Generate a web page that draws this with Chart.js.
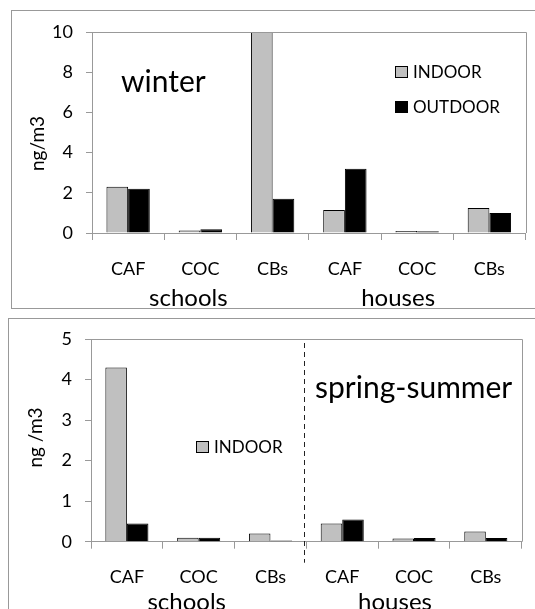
<!DOCTYPE html>
<html>
<head>
<meta charset="utf-8">
<script src="https://cdn.jsdelivr.net/npm/chart.js@4/dist/chart.umd.min.js"></script>
<style>
body { margin: 0; width: 535px; height: 609px; background: #fff; overflow: hidden; position: relative; }
.frame { position: absolute; border: 1px solid #999; border-right: none; }
canvas { position: absolute; left: 0; }
</style>
</head>
<body>
<div class="frame" style="left:11px;top:10px;width:540px;height:297px"></div>
<div class="frame" style="left:8px;top:318px;width:540px;height:300px"></div>
<canvas id="winter" style="top:0" width="535" height="312"></canvas>
<canvas id="spring" style="top:312px" width="535" height="297"></canvas>
<script>
var categories = ["CAF", "COC", "CBs", "CAF", "COC", "CBs"];
var groups = ["schools", "houses"];
var winterIndoor = [2.3, 0.12, 10, 1.15, 0.1, 1.25];
var winterOutdoor = [2.2, 0.19, 1.7, 3.2, 0.09, 1.0];
var springIndoor = [4.3, 0.1, 0.2, 0.45, 0.08, 0.25];
var springOutdoor = [0.45, 0.1, 0.03, 0.55, 0.09, 0.09];
var winterTicks = [0, 2, 4, 6, 8, 10];
var springTicks = [0, 1, 2, 3, 4, 5];

var FONT = "Lato";

// frame of plot area, axis title, season label, legend, group labels
var panelDecor = {
    id: "panelDecor",
    afterDraw: function(chart, args, opts) {
        var ctx = chart.ctx;
        var a = chart.chartArea;
        var x = chart.scales.x;
        ctx.save();
        ctx.strokeStyle = "#999";
        ctx.lineWidth = 1;
        ctx.beginPath();
        ctx.moveTo(a.left, Math.round(a.top) + 0.5);
        ctx.lineTo(Math.round(a.right) + 0.5, Math.round(a.top) + 0.5);
        ctx.lineTo(Math.round(a.right) + 0.5, a.bottom);
        ctx.stroke();

        if (opts.divider) {
            var dx = Math.round((x.getPixelForValue(2) + x.getPixelForValue(3)) / 2) - 1.5;
            ctx.strokeStyle = "#222";
            ctx.setLineDash([5, 4]);
            ctx.beginPath();
            ctx.moveTo(dx, a.top + 4);
            ctx.lineTo(dx, a.bottom + 21);
            ctx.stroke();
            ctx.setLineDash([]);
        }

        ctx.fillStyle = "#000";
        ctx.textAlign = "center";
        ctx.textBaseline = "alphabetic";
        ctx.font = "24px " + FONT;
        groups.forEach(function(g, i) {
            var gx = x.getPixelForValue(opts.groupAt[i]) + opts.groupShift[i];
            ctx.fillText(g, gx, a.bottom + opts.groupDrop);
        });

        ctx.textAlign = "left";
        ctx.font = opts.seasonSize + "px " + FONT;
        ctx.fillText(opts.season, opts.seasonX, opts.seasonY);

        ctx.font = "17px " + FONT;
        ctx.textBaseline = "middle";
        opts.legend.forEach(function(item) {
            var ds = chart.data.datasets[item.index];
            ctx.fillStyle = ds.backgroundColor;
            ctx.fillRect(item.x, item.y - 6, 13, 12);
            ctx.strokeStyle = "#000";
            ctx.strokeRect(item.x + 0.5, item.y - 5.5, 12, 11);
            ctx.fillStyle = "#000";
            ctx.fillText(ds.label, item.x + 18, item.y + 1);
        });

        ctx.font = "19px " + FONT;
        ctx.translate(opts.titleX, opts.titleY);
        ctx.rotate(-Math.PI / 2);
        ctx.textAlign = "center";
        ctx.fillText(opts.yTitle, 0, 0);
        ctx.restore();
    }
};

function makeOptions(ticks, yWidth, xHeight, padTop, padRight, decor) {
    return {
        responsive: false,
        animation: false,
        layout: {
            padding: { top: padTop, right: padRight, left: 0, bottom: 0 }
        },
        plugins: {
            legend: { display: false },
            tooltip: { enabled: false },
            panelDecor: decor
        },
        scales: {
            x: {
                offset: true,
                grid: {
                    offset: true,
                    drawOnChartArea: false,
                    drawTicks: true,
                    tickLength: 7,
                    color: "#999"
                },
                border: { color: "#999" },
                ticks: {
                    autoSkip: false,
                    maxRotation: 0,
                    padding: 18,
                    color: "#000",
                    font: { family: FONT, size: 18 }
                },
                afterFit: function(scale) { scale.height = xHeight; }
            },
            y: {
                min: ticks[0],
                max: ticks[ticks.length - 1],
                afterBuildTicks: function(scale) {
                    scale.ticks = ticks.map(function(v) { return { value: v }; });
                },
                grid: {
                    drawOnChartArea: false,
                    drawTicks: true,
                    tickLength: 6,
                    color: "#999"
                },
                border: { color: "#999" },
                ticks: {
                    padding: 13,
                    color: "#000",
                    font: { family: FONT, size: 18 }
                },
                afterFit: function(scale) { scale.width = yWidth; }
            }
        }
    };
}

function makeData(indoor, outdoor) {
    return {
        labels: categories,
        datasets: [{
            label: "INDOOR",
            data: indoor,
            backgroundColor: "#c0c0c0",
            borderColor: "#000",
            borderWidth: 1,
            categoryPercentage: 0.6,
            barPercentage: 1.0
        }, {
            label: "OUTDOOR",
            data: outdoor,
            backgroundColor: "#000",
            borderColor: "#000",
            borderWidth: 1,
            categoryPercentage: 0.6,
            barPercentage: 1.0
        }]
    };
}

new Chart(document.getElementById("winter").getContext("2d"), {
    type: "bar",
    data: makeData(winterIndoor, winterOutdoor),
    options: makeOptions(winterTicks, 92, 79, 32, 9.5, {
        divider: false,
        groupAt: [1, 4],
        groupShift: [-12, -19],
        groupDrop: 72.5,
        season: "winter",
        seasonSize: 30,
        seasonX: 121,
        seasonY: 91.5,
        legend: [{ index: 0, x: 395, y: 72 }, { index: 1, x: 395, y: 107 }],
        yTitle: "ng/m3",
        titleX: 38,
        titleY: 143.5
    }),
    plugins: [panelDecor]
});

new Chart(document.getElementById("spring").getContext("2d"), {
    type: "bar",
    data: makeData(springIndoor, springOutdoor),
    options: makeOptions(springTicks, 91, 67.3, 27, 13.3, {
        divider: true,
        groupAt: [1, 4],
        groupShift: [-12, -19],
        groupDrop: 68,
        season: "spring-summer",
        seasonSize: 30,
        seasonX: 315,
        seasonY: 86.3,
        legend: [{ index: 0, x: 196, y: 135 }],
        yTitle: "ng /m3",
        titleX: 36,
        titleY: 125.5
    }),
    plugins: [panelDecor]
});
</script>
</body>
</html>
